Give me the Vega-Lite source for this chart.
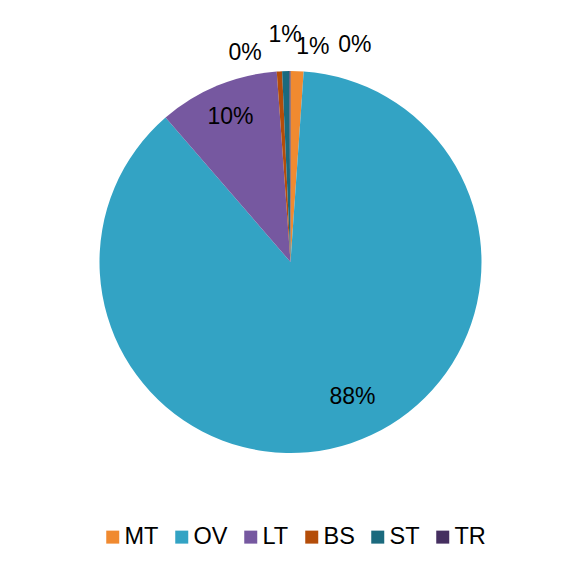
{
  "$schema": "https://vega.github.io/schema/vega-lite/v6.json",
  "autosize": {"type": "none"},
  "width": 549,
  "height": 504,
  "padding": {"left": 16, "top": 10, "right": 0, "bottom": 50},
  "background": "white",
  "config": {"view": {"stroke": null}, "font": "Liberation Sans"},
  "data": {
    "values": [
      {"type": "MT", "share": 0.011, "idx": 1},
      {"type": "OV", "share": 0.8755, "idx": 2},
      {"type": "LT", "share": 0.102, "idx": 3},
      {"type": "BS", "share": 0.0045, "idx": 4},
      {"type": "ST", "share": 0.006, "idx": 5},
      {"type": "TR", "share": 0.001, "idx": 6}
    ]
  },
  "encoding": {
    "theta": {"field": "share", "type": "quantitative", "stack": true},
    "order": {"field": "idx", "type": "quantitative"}
  },
  "layer": [
    {
      "mark": {"type": "arc", "outerRadius": 191},
      "encoding": {
        "color": {
          "field": "type",
          "type": "nominal",
          "scale": {
            "domain": ["MT", "OV", "LT", "BS", "ST", "TR"],
            "range": ["#F08A30", "#33A3C4", "#7658A0", "#B44D09", "#1B6A7E", "#452F60"]
          },
          "legend": {
            "title": null,
            "orient": "none",
            "legendX": 85,
            "legendY": 515,
            "direction": "horizontal",
            "columns": 6,
            "symbolType": "square",
            "symbolSize": 169,
            "symbolStrokeWidth": 0,
            "labelFontSize": 23.5,
            "labelFont": "Liberation Sans",
            "labelColor": "#000000",
            "labelOffset": 0,
            "columnPadding": 11
          }
        }
      }
    },
    {
      "mark": {"type": "text", "radius": 142, "dx": 17, "fontSize": 23, "font": "Liberation Sans", "color": "#000000", "baseline": "middle", "align": "center"},
      "encoding": {
        "detail": {"field": "type"},
        "text": {"condition": {"test": "datum.type === 'OV'", "field": "share", "type": "quantitative", "format": ".0%"}, "value": ""}
      }
    },
    {
      "mark": {"type": "text", "radius": 157, "fontSize": 23, "font": "Liberation Sans", "color": "#000000", "baseline": "middle", "align": "center"},
      "encoding": {
        "detail": {"field": "type"},
        "text": {"condition": {"test": "datum.type === 'LT'", "field": "share", "type": "quantitative", "format": ".0%"}, "value": ""}
      }
    },
    {
      "mark": {"type": "text", "radius": 213, "dx": -33, "dy": 4, "fontSize": 23, "font": "Liberation Sans", "color": "#000000", "baseline": "middle", "align": "center"},
      "encoding": {
        "detail": {"field": "type"},
        "text": {"condition": {"test": "datum.type === 'BS'", "field": "share", "type": "quantitative", "format": ".0%"}, "value": ""}
      }
    },
    {
      "mark": {"type": "text", "radius": 213, "dx": 0, "dy": -14, "fontSize": 23, "font": "Liberation Sans", "color": "#000000", "baseline": "middle", "align": "center"},
      "encoding": {
        "detail": {"field": "type"},
        "text": {"condition": {"test": "datum.type === 'ST'", "field": "share", "type": "quantitative", "format": ".0%"}, "value": ""}
      }
    },
    {
      "mark": {"type": "text", "radius": 213, "dx": 15, "dy": -2, "fontSize": 23, "font": "Liberation Sans", "color": "#000000", "baseline": "middle", "align": "center"},
      "encoding": {
        "detail": {"field": "type"},
        "text": {"condition": {"test": "datum.type === 'MT'", "field": "share", "type": "quantitative", "format": ".0%"}, "value": ""}
      }
    },
    {
      "mark": {"type": "text", "radius": 213, "dx": 65, "dy": -4, "fontSize": 23, "font": "Liberation Sans", "color": "#000000", "baseline": "middle", "align": "center"},
      "encoding": {
        "detail": {"field": "type"},
        "text": {"condition": {"test": "datum.type === 'TR'", "field": "share", "type": "quantitative", "format": ".0%"}, "value": ""}
      }
    }
  ]
}
